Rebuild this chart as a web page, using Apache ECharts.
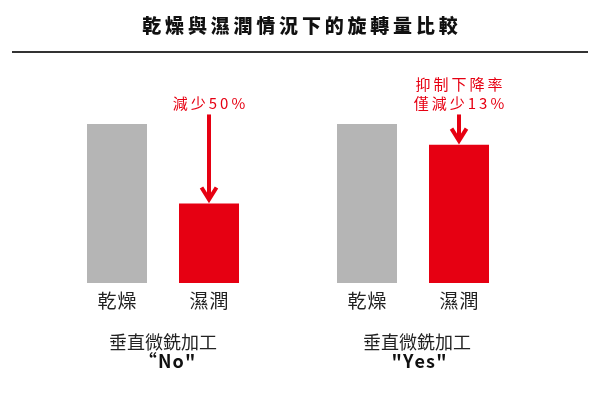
<!DOCTYPE html>
<html><head><meta charset="utf-8">
<script src="https://cdn.jsdelivr.net/npm/echarts@6/dist/echarts.min.js"></script>
<style>html,body{margin:0;padding:0;background:#fff}#c{width:600px;height:394px}</style>
</head><body><div id="c"></div>
<script>
const categories = ['乾燥', '濕潤'];
const noValues = [100, 50];
const yesValues = [100, 87];
const noNote = ['減少50%'];
const yesNote = ['抑制下降率', '僅減少13%'];
const groupTitle = '垂直微銑加工';
const groupNames = ['“No"', '"Yes"'];
const chartTitle = '乾燥與濕潤情況下的旋轉量比較';

const GRAY = '#b5b5b5', RED = '#e60012';
const CJK = '"Noto Sans CJK TC", "Noto Sans CJK SC", sans-serif';
const sp = (s, g) => s.split('').join(g);

const chart = echarts.init(document.getElementById('c'));

function arrowSeries(gridIdx, values, note) {
  return {
    type: 'custom', xAxisIndex: gridIdx, yAxisIndex: gridIdx, z: 5,
    data: [[1, values[1]]],
    renderItem: function (params, api) {
      const p = api.coord([api.value(0), api.value(1)]);
      const x = p[0];
      const tip = p[1] - 3;
      const start = api.coord([1, 106])[1];
      const children = [
        { type: 'line', shape: { x1: x, y1: start, x2: x, y2: tip - 1 },
          style: { stroke: RED, lineWidth: 4 } },
        { type: 'polyline', shape: { points: [[x - 7.5, tip - 13], [x, tip - 1], [x + 7.5, tip - 13]] },
          style: { stroke: RED, lineWidth: 4, fill: null, lineJoin: 'miter' } }
      ];
      const n = note.length;
      note.forEach(function (t, i) {
        children.push({ type: 'text', style: {
          text: sp(t, '\u2009'), x: x, y: start - 11 - (n - 1 - i) * 19,
          fill: RED, font: '15px ' + CJK, align: 'center', verticalAlign: 'middle'
        }});
      });
      return { type: 'group', children: children };
    }
  };
}

function barSeries(gridIdx, values) {
  return {
    type: 'bar', xAxisIndex: gridIdx, yAxisIndex: gridIdx, barWidth: 60,
    data: values.map((v, i) => ({ value: v, itemStyle: { color: i === 0 ? GRAY : RED } }))
  };
}

const xAxisBase = {
  type: 'category', data: categories,
  axisLine: { show: false }, axisTick: { show: false },
  axisLabel: { fontSize: 19, color: '#222', fontFamily: CJK, margin: 8,
    formatter: v => sp(v, '\u200A') }
};
const yAxisBase = { type: 'value', min: 0, max: 100, show: false };

const centers = [163, 417];
const graphics = [
  { type: 'text', style: { text: sp(chartTitle, '\u2009'), x: 300, y: 26, fill: '#111',
      font: '900 19px ' + CJK, align: 'center', verticalAlign: 'middle' } },
  { type: 'line', shape: { x1: 12, y1: 52, x2: 588, y2: 52 }, style: { stroke: '#333', lineWidth: 2 } }
];
centers.forEach(function (cx, i) {
  graphics.push({ type: 'text', style: { text: groupTitle, x: cx, y: 342, fill: '#222',
    font: '18px ' + CJK, align: 'center', verticalAlign: 'middle' } });
  graphics.push({ type: 'text', style: { text: sp(groupNames[i], '\u200A'), x: cx + (i === 0 ? 4 : 2), y: 361, fill: '#111',
    font: 'bold 18px ' + CJK, align: 'center', verticalAlign: 'middle' } });
});

chart.setOption({
  animation: false,
  backgroundColor: '#fff',
  grid: [
    { left: 71, width: 184, top: 124, bottom: 111 },
    { left: 321, width: 184, top: 124, bottom: 111 }
  ],
  xAxis: [Object.assign({ gridIndex: 0 }, xAxisBase), Object.assign({ gridIndex: 1 }, xAxisBase)],
  yAxis: [Object.assign({ gridIndex: 0 }, yAxisBase), Object.assign({ gridIndex: 1 }, yAxisBase)],
  series: [
    barSeries(0, noValues), barSeries(1, yesValues),
    arrowSeries(0, noValues, noNote), arrowSeries(1, yesValues, yesNote)
  ],
  graphic: graphics
});
</script></body></html>
